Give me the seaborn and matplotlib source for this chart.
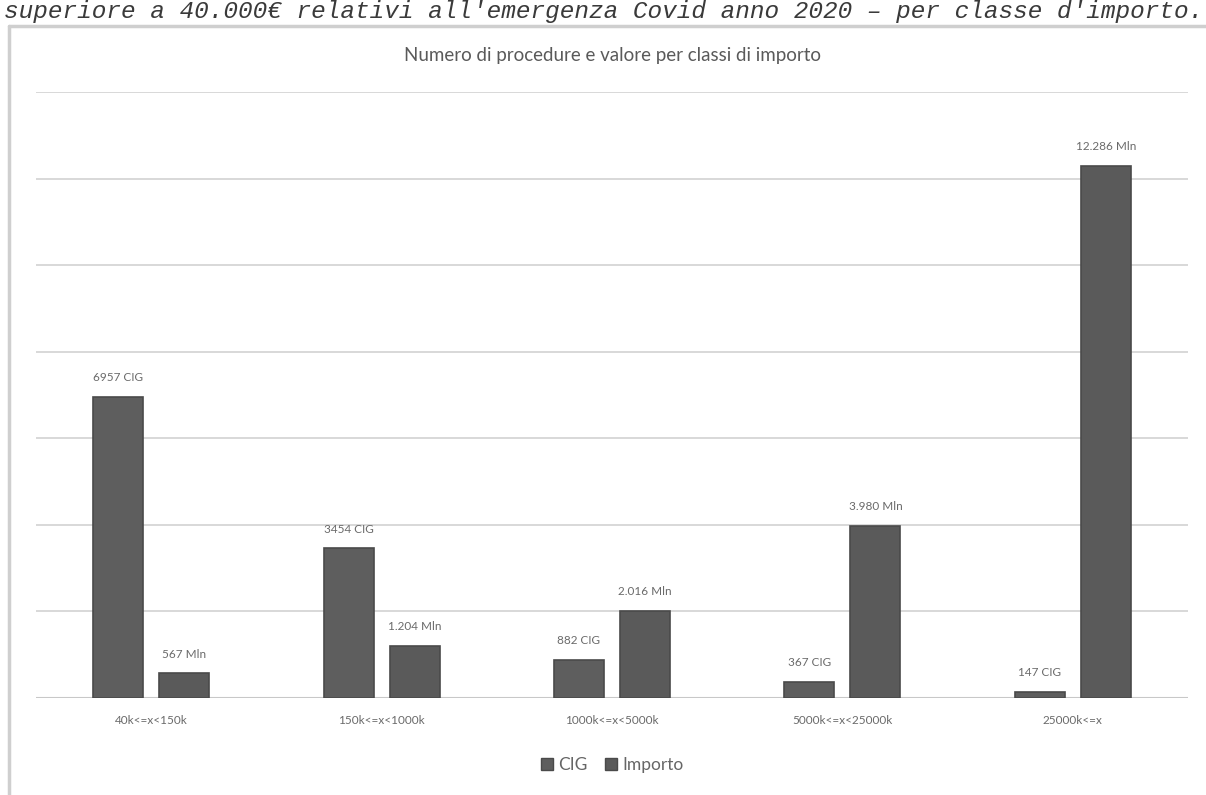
import matplotlib
matplotlib.use("Agg")
import matplotlib.pyplot as plt
import seaborn as sns
import pandas as pd

# ---- data ----
categories = ["40k<=x<150k", "150k<=x<1000k", "1000k<=x<5000k", "5000k<=x<25000k", "25000k<=x"]
series = ["CIG", "Importo"]
cig_values = [6957, 3454, 882, 367, 147]
importo_values = [567, 1204, 2016, 3980, 12286]
title = "Numero di procedure e valore per classi di importo"
caption = "superiore a 40.000€ relativi all'emergenza Covid anno 2020 – per classe d'importo."

df = pd.DataFrame({
    "classe": categories * 2,
    "serie": [series[0]] * len(categories) + [series[1]] * len(categories),
    "valore": cig_values + importo_values,
})

sns.set_theme(style="white")
plt.rcParams["font.family"] = ["Lato", "DejaVu Sans"]

W, H = 1206, 795
fig = plt.figure(figsize=(W / 100, H / 100), dpi=100)
ax = fig.add_axes([36 / W, 97 / H, (1188 - 36) / W, (698 - 92) / H])

sns.barplot(data=df, x="classe", y="valore", hue="serie", order=categories,
            hue_order=series, palette=["#5e5e5e", "#5a5a5a"], width=0.573, gap=0.24,
            edgecolor="#4a4a4a", linewidth=1.2, ax=ax, zorder=3)

ax.set_ylim(0, 14000)
ax.set_yticks(range(0, 14001, 2000))
ax.yaxis.grid(True, color="#d6d6d6", linewidth=1.3, zorder=0)
ax.set_axisbelow(True)
ax.set_yticklabels([])
ax.tick_params(axis="y", length=0)
ax.tick_params(axis="x", length=0, pad=12, labelsize=8.5, labelcolor="#6a6a6a")
ax.set_xlabel("")
ax.set_ylabel("")
for s in ax.spines.values():
    s.set_visible(False)
ax.axhline(0, color="#c8c8c8", linewidth=1.5, zorder=2)

labels_cig = [f"{v} CIG" for v in cig_values]
labels_imp = [f"{v:,}".replace(",", ".") + " Mln" for v in importo_values]
ax.bar_label(ax.containers[0], labels=labels_cig, padding=10, fontsize=8.5, color="#6a6a6a")
ax.bar_label(ax.containers[1], labels=labels_imp, padding=10, fontsize=8.5, color="#6a6a6a")

leg = ax.get_legend()
if leg is not None:
    leg.remove()
handles = [plt.Rectangle((0, 0), 1, 1, facecolor="#5e5e5e", edgecolor="#4a4a4a"),
           plt.Rectangle((0, 0), 1, 1, facecolor="#5a5a5a", edgecolor="#4a4a4a")]
fig.legend(handles, series, loc="center", bbox_to_anchor=(612 / W, 1 - 765 / H), ncol=2,
           frameon=False, fontsize=12.5, labelcolor="#666666", handlelength=0.7,
           handleheight=0.7, handletextpad=0.3, columnspacing=1.0)

fig.text(612 / W, 1 - 55 / H, title, ha="center", va="center", fontsize=13.5, color="#5a5a5a")

# caption line above the chart frame
fig.text(4 / W, 1 - 18 / H, caption, ha="left", va="baseline", fontsize=17.6,
         family=["Liberation Mono", "DejaVu Sans Mono"], style="italic", color="#3a3a3a")

# frame of the scanned chart
fig.add_artist(plt.Line2D([9 / W, 1.0], [1 - 26 / H, 1 - 26 / H], transform=fig.transFigure,
                          color="#cfcfcf", linewidth=2.5))
fig.add_artist(plt.Line2D([9 / W, 9 / W], [0, 1 - 26 / H], transform=fig.transFigure,
                          color="#cfcfcf", linewidth=2.5))

fig.savefig("out.png", dpi=100)
